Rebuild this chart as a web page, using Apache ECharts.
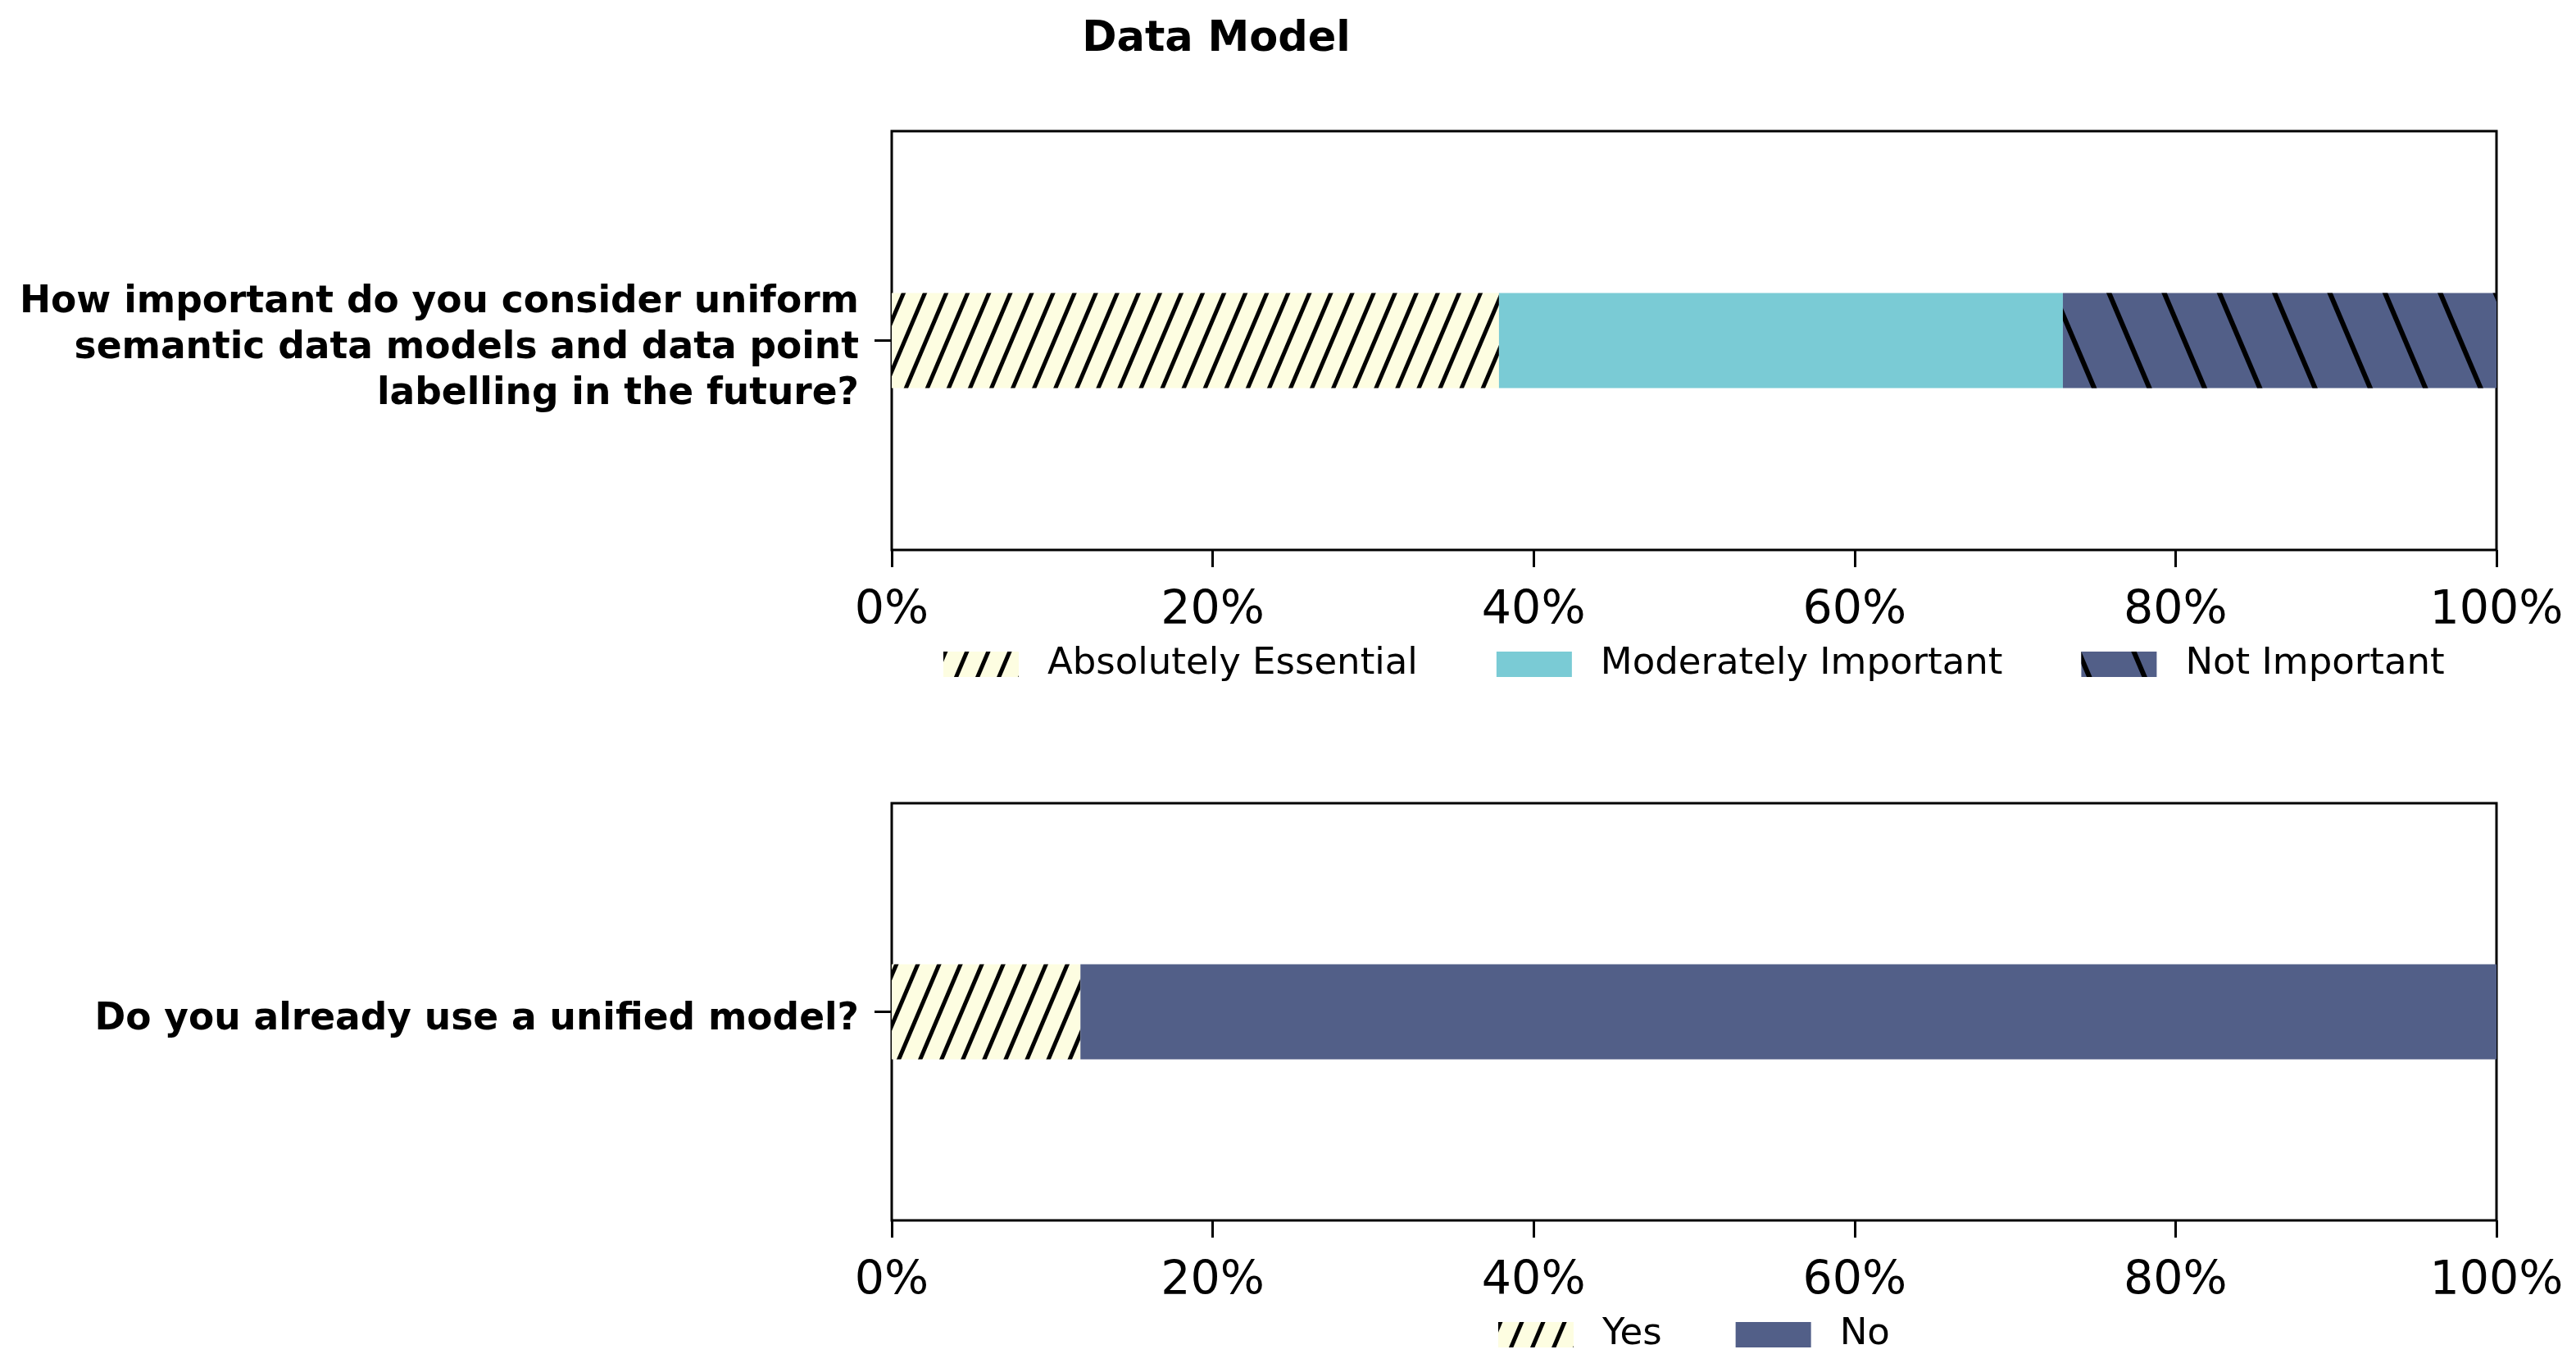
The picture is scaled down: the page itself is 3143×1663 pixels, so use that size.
<!DOCTYPE html>
<html>
<head>
<meta charset="utf-8">
<script src="https://cdn.jsdelivr.net/npm/echarts@6/dist/echarts.min.js"></script>
<style>
html,body{margin:0;padding:0;background:#fff;}
#chart{width:3143px;height:1663px;}
</style>
</head>
<body>
<div id="chart"></div>
<script>
const titleText = 'Data Model';
const question1 = ['How important do you consider uniform\nsemantic data models and data point\nlabelling in the future?'];
const question2 = ['Do you already use a unified model?'];
const q1Names = ['Absolutely Essential', 'Moderately Important', 'Not Important'];
const q1Values = [37.84, 35.14, 27.02];
const q2Names = ['Yes', 'No'];
const q2Values = [11.76, 88.24];
const xTicks = [0, 20, 40, 60, 80, 100];

const FONT = 'DejaVu Sans';
const cream = '#fdfde1';
const teal = '#7acbd5';
const navy = '#525f88';
const ang = 67 * Math.PI / 180;
const hatchFwd = {symbol: 'rect', symbolSize: 1, symbolKeepAspect: false, color: '#000', dashArrayX: [5, 0], dashArrayY: [5, 19], rotation: -ang};
const hatchBack = {symbol: 'rect', symbolSize: 1, symbolKeepAspect: false, color: '#000', dashArrayX: [6, 0], dashArrayY: [6, 56], rotation: ang};

const chart = echarts.init(document.getElementById('chart'), null, {renderer: 'canvas'});

function xAxisCfg(gi) {
  return {
    type: 'value', gridIndex: gi, min: xTicks[0], max: xTicks[xTicks.length - 1], interval: 20,
    axisLine: {show: false},
    axisTick: {show: true, length: 21, lineStyle: {color: '#000', width: 3}},
    splitLine: {show: false},
    axisLabel: {fontFamily: FONT, fontSize: 57, color: '#000', margin: 47, formatter: '{value}%'}
  };
}
function yAxisCfg(gi, cats) {
  return {
    type: 'category', gridIndex: gi, data: cats,
    axisLine: {show: false},
    axisTick: {show: true, alignWithLabel: true, length: 21, lineStyle: {color: '#000', width: 3}},
    axisLabel: {
      margin: 40, align: 'right',
      formatter: v => '{s| }\n' + v.split('\n').map(l => '{b|' + l + '}').join('\n'),
      rich: {
        s: {fontSize: 1, lineHeight: 20},
        b: {fontFamily: FONT, fontSize: 45.5, fontWeight: 'bold', color: '#000', lineHeight: 56, align: 'right'}
      }
    }
  };
}

const q1Styles = [
  {color: cream, decal: hatchFwd},
  {color: teal},
  {color: navy, decal: hatchBack}
];
const q2Styles = [
  {color: cream, decal: hatchFwd},
  {color: navy}
];

const series = [];
q1Names.forEach((n, i) => series.push({
  name: n, type: 'bar', stack: 'q1', xAxisIndex: 0, yAxisIndex: 0, barWidth: 116,
  data: [q1Values[i]], itemStyle: q1Styles[i], emphasis: {disabled: true}
}));
q2Names.forEach((n, i) => series.push({
  name: n, type: 'bar', stack: 'q2', xAxisIndex: 1, yAxisIndex: 1, barWidth: 116,
  data: [q2Values[i]], itemStyle: q2Styles[i], emphasis: {disabled: true}
}));

const legendText = {fontFamily: FONT, fontSize: 45, color: '#000', padding: [0, 0, 0, 30]};

chart.setOption({
  animation: false,
  backgroundColor: '#fff',
  title: {
    text: titleText, left: 1479, top: 18, textAlign: 'center',
    textStyle: {fontFamily: FONT, fontSize: 51, fontWeight: 'bold', color: '#000'}
  },
  grid: [
    {left: 1088, top: 160, width: 1958, height: 511, show: true, borderColor: '#000', borderWidth: 3, containLabel: false},
    {left: 1088, top: 980, width: 1958, height: 509, show: true, borderColor: '#000', borderWidth: 3, containLabel: false}
  ],
  xAxis: [xAxisCfg(0), xAxisCfg(1)],
  yAxis: [yAxisCfg(0, question1), yAxisCfg(1, question2)],
  legend: [
    {data: q1Names, left: 1151, top: 788, padding: 0, itemWidth: 92, itemHeight: 31, itemGap: 96, icon: 'rect', textStyle: legendText, selectedMode: false},
    {data: q2Names, left: 1828, top: 1606, padding: 0, itemWidth: 92, itemHeight: 31, itemGap: 90, icon: 'rect', textStyle: legendText, selectedMode: false}
  ],
  series: series
});
</script>
</body>
</html>
